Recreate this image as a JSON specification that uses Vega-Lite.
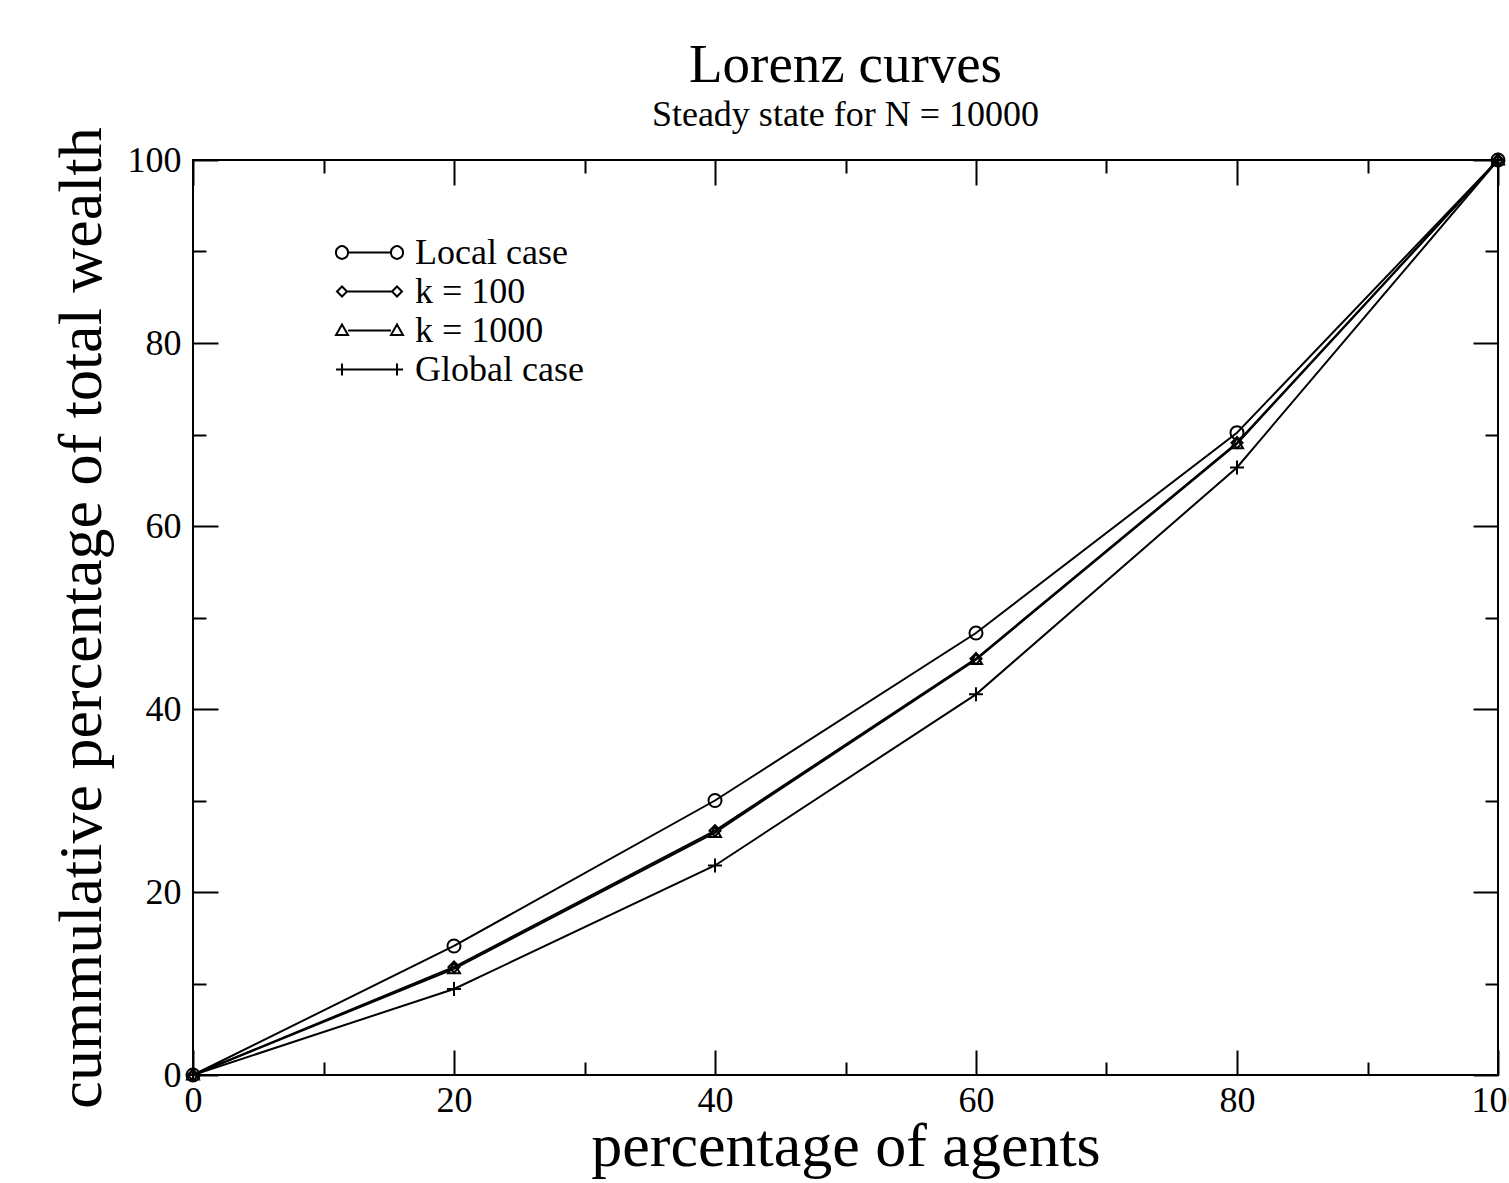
{
  "$schema": "https://vega.github.io/schema/vega-lite/v6.json",
  "width": 1305,
  "height": 915,
  "autosize": {"type": "none"},
  "padding": {"left": 193, "top": 160, "right": 11, "bottom": 108},
  "background": "white",
  "config": {"view": {"stroke": "black", "strokeWidth": 2}, "font": "Liberation Serif"},
  "title": {
    "text": "Lorenz curves",
    "subtitle": "Steady state for N = 10000",
    "font": "Liberation Serif",
    "subtitleFont": "Liberation Serif",
    "fontSize": 55,
    "subtitleFontSize": 36,
    "fontWeight": "normal",
    "color": "black",
    "subtitleColor": "black",
    "anchor": "middle",
    "frame": "group",
    "offset": -7,
    "subtitlePadding": 4
  },
  "data": {
    "values": [
      {"series": "Local case", "agents": 0, "wealth": 0},
      {"series": "Local case", "agents": 20, "wealth": 14.1},
      {"series": "Local case", "agents": 40, "wealth": 30.0},
      {"series": "Local case", "agents": 60, "wealth": 48.3},
      {"series": "Local case", "agents": 80, "wealth": 70.2},
      {"series": "Local case", "agents": 100, "wealth": 100},
      {"series": "k = 100", "agents": 0, "wealth": 0},
      {"series": "k = 100", "agents": 20, "wealth": 11.8},
      {"series": "k = 100", "agents": 40, "wealth": 26.7},
      {"series": "k = 100", "agents": 60, "wealth": 45.5},
      {"series": "k = 100", "agents": 80, "wealth": 69.1},
      {"series": "k = 100", "agents": 100, "wealth": 100},
      {"series": "k = 1000", "agents": 0, "wealth": 0},
      {"series": "k = 1000", "agents": 20, "wealth": 11.6},
      {"series": "k = 1000", "agents": 40, "wealth": 26.5},
      {"series": "k = 1000", "agents": 60, "wealth": 45.4},
      {"series": "k = 1000", "agents": 80, "wealth": 69.0},
      {"series": "k = 1000", "agents": 100, "wealth": 100},
      {"series": "Global case", "agents": 0, "wealth": 0},
      {"series": "Global case", "agents": 20, "wealth": 9.4},
      {"series": "Global case", "agents": 40, "wealth": 22.9},
      {"series": "Global case", "agents": 60, "wealth": 41.6},
      {"series": "Global case", "agents": 80, "wealth": 66.4},
      {"series": "Global case", "agents": 100, "wealth": 100}
    ]
  },
  "layer": [
    {
      "mark": {"type": "line", "color": "black", "strokeWidth": 2},
      "encoding": {
        "x": {
          "field": "agents", "type": "quantitative",
          "scale": {"domain": [0, 100], "nice": false, "zero": false},
          "axis": {
            "orient": "bottom",
            "values": [0, 10, 20, 30, 40, 50, 60, 70, 80, 90, 100],
            "labelExpr": "datum.value % 20 === 0 ? datum.label : ''",
            "domain": false, "grid": false,
            "tickColor": "black", "tickWidth": 2,
            "tickSize": {"condition": {"test": "datum.value % 20 === 0", "value": -25}, "value": -13},
            "labelFont": "Liberation Serif", "labelFontSize": 36, "labelColor": "black",
            "labelPadding": 33, "labelFlush": false, "labelOverlap": false,
            "title": "percentage of agents",
            "titleFont": "Liberation Serif", "titleFontSize": 62, "titleFontWeight": "normal", "titleColor": "black",
            "titleX": 652.5, "titleY": 90, "titleBaseline": "alphabetic", "titleAlign": "center"
          }
        },
        "y": {
          "field": "wealth", "type": "quantitative",
          "scale": {"domain": [0, 100], "nice": false},
          "axis": {
            "orient": "left",
            "values": [0, 10, 20, 30, 40, 50, 60, 70, 80, 90, 100],
            "labelExpr": "datum.value % 20 === 0 ? datum.label : ''",
            "domain": false, "grid": false,
            "tickColor": "black", "tickWidth": 2,
            "tickSize": {"condition": {"test": "datum.value % 20 === 0", "value": -25}, "value": -13},
            "labelFont": "Liberation Serif", "labelFontSize": 36, "labelColor": "black",
            "labelPadding": 37, "labelFlush": false, "labelOverlap": false,
            "title": "cummulative percentage of total wealth",
            "titleFont": "Liberation Serif", "titleFontSize": 62, "titleFontWeight": "normal", "titleColor": "black",
            "titleX": -93, "titleY": 457.5, "titleBaseline": "alphabetic", "titleAlign": "center", "titleAngle": 270
          }
        },
        "detail": {"field": "series", "type": "nominal"}
      }
    },
    {
      "mark": {"type": "point", "filled": false, "stroke": "black", "strokeWidth": 2, "size": 196, "opacity": 1},
      "encoding": {
        "x": {
          "field": "agents", "type": "quantitative",
          "axis": {
            "orient": "top",
            "values": [0, 10, 20, 30, 40, 50, 60, 70, 80, 90, 100],
            "labels": false, "domain": false, "grid": false, "title": null,
            "tickColor": "black", "tickWidth": 2,
            "tickSize": {"condition": {"test": "datum.value % 20 === 0", "value": -25}, "value": -13}
          }
        },
        "y": {
          "field": "wealth", "type": "quantitative",
          "axis": {
            "orient": "right",
            "values": [0, 10, 20, 30, 40, 50, 60, 70, 80, 90, 100],
            "labels": false, "domain": false, "grid": false, "title": null,
            "tickColor": "black", "tickWidth": 2,
            "tickSize": {"condition": {"test": "datum.value % 20 === 0", "value": -25}, "value": -13}
          }
        },
        "shape": {
          "field": "series", "type": "nominal",
          "scale": {
            "domain": ["Local case", "k = 100", "k = 1000", "Global case"],
            "range": [
              "M-0.93,0A0.93,0.93 0 1,0 0.93,0A0.93,0.93 0 1,0 -0.93,0",
              "M-0.79,0L0,-0.79L0.79,0L0,0.79Z",
              "M-0.86,0.64L0,-0.86L0.86,0.64Z",
              "M-1,0L1,0M0,-1L0,1"
            ]
          },
          "legend": null
        }
      }
    },
    {
      "mark": {"type": "point", "filled": false, "opacity": 0, "stroke": "black", "strokeWidth": 2},
      "encoding": {
        "x": {"field": "agents", "type": "quantitative", "axis": null},
        "y": {"field": "wealth", "type": "quantitative", "axis": null},
        "shape": {
          "field": "series", "type": "nominal",
          "scale": {
            "domain": ["Local case", "k = 100", "k = 1000", "Global case"],
            "range": [
              "M-1.914,0A0.343,0.343 0 1,0 -1.229,0A0.343,0.343 0 1,0 -1.914,0M-1.229,0L1.229,0M1.229,0A0.343,0.343 0 1,0 1.914,0A0.343,0.343 0 1,0 1.229,0",
              "M-1.857,0L-1.571,-0.286L-1.286,0L-1.571,0.286ZM-1.286,0L1.286,0M1.286,0L1.571,-0.286L1.857,0L1.571,0.286Z",
              "M-1.914,0.257L-1.571,-0.343L-1.229,0.257ZM-1.229,0L1.229,0M1.229,0.257L1.571,-0.343L1.914,0.257Z",
              "M-1.914,0L1.914,0M-1.571,-0.343L-1.571,0.343M1.571,-0.343L1.571,0.343"
            ]
          },
          "legend": {
            "orient": "none", "legendX": 158, "legendY": 74,
            "title": null, "padding": 0,
            "symbolSize": 1225, "symbolStrokeColor": "black", "symbolStrokeWidth": 2,
            "symbolFillColor": "transparent", "symbolOpacity": 1,
            "labelFont": "Liberation Serif", "labelFontSize": 36, "labelColor": "black",
            "labelOffset": 27, "labelLimit": 400, "rowPadding": 2
          }
        }
      }
    }
  ],
  "resolve": {"scale": {"shape": "independent"}, "axis": {"x": "independent", "y": "independent"}}
}
